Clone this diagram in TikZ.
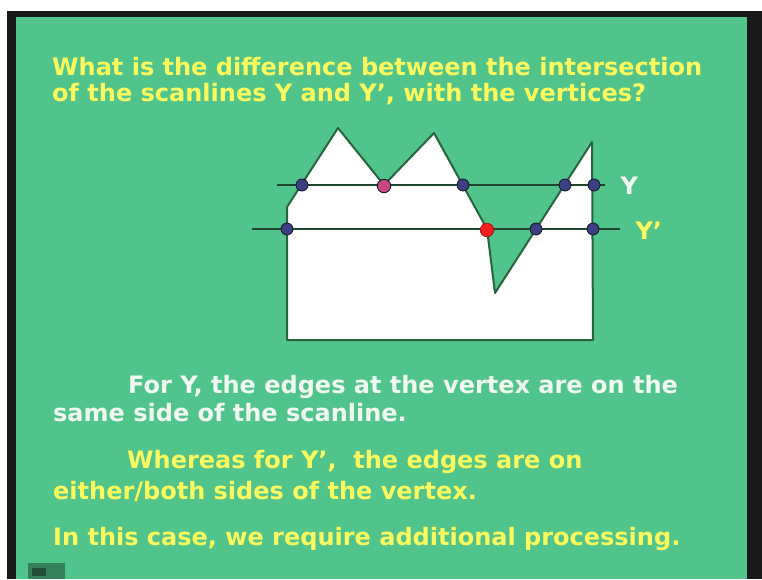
\documentclass[tikz,border=0pt]{standalone}
\usepackage{fontspec}
\setmainfont{DejaVu Sans}
\usepackage{tikz}
\usetikzlibrary{positioning}

\definecolor{slidegreen}{RGB}{80,196,138}
\definecolor{slideyellow}{RGB}{250,250,95}
\definecolor{slidewhite}{RGB}{240,250,242}
\definecolor{edgegreen}{RGB}{40,100,62}
\definecolor{scangreen}{RGB}{28,70,45}
\definecolor{dotblue}{RGB}{60,64,130}
\definecolor{dotpink}{RGB}{196,74,128}
\definecolor{dotred}{RGB}{240,30,30}

\begin{document}
\begin{tikzpicture}[
  x=1pt, y=-1pt,
  font=\fontsize{24}{29}\selectfont\bfseries,
  txt/.style={anchor=base west, inner sep=0pt},
  poly/.style={draw=edgegreen, fill=white, line width=2pt, line join=round},
  scan/.style={draw=scangreen, line width=2.6pt},
  dot/.style={circle, draw=black!70!dotblue, fill=dotblue, line width=0.8pt, minimum size=12pt, inner sep=0pt},
  hitdot/.style={dot, minimum size=13.5pt}
]
\useasboundingbox (0,0) rectangle (762,579);

% slide frame
\fill[white] (0,0) rectangle (762,579);
\fill[black!90] (7,11) rectangle (762,579);
\fill[slidegreen] (16,17) rectangle (747,579);
\fill[black!35!slidegreen] (28,563) rectangle (65,579);
\fill[black!60!slidegreen] (32,568) rectangle (46,576);

% question
\node[txt, text=slideyellow] (q1) at (52,75) {What is the difference between the intersection};
\node[txt, text=slideyellow] (q2) at (52,101) {of the scanlines Y and Y’, with the vertices?};

% polygon
\coordinate (a) at (287,340);
\coordinate (b) at (287,207);
\coordinate (c) at (338,128);
\coordinate (d) at (384,185);
\coordinate (e) at (434,133);
\coordinate (f) at (487,229);
\coordinate (g) at (495,293);
\coordinate (h) at (592,142);
\coordinate (i) at (593,340);
\draw[poly] (a) -- (b) -- (c) -- (d) -- (e) -- (f) -- (g) -- (h) -- (i) -- cycle;

% scanlines
\coordinate (ys) at (277,185);
\coordinate (ye) at (605,185);
\coordinate (ps) at (252,229);
\coordinate (pe) at (620,229);
\draw[scan] (ys) -- (ye);
\draw[scan] (ps) -- (pe);
\node[text=slidewhite, anchor=west] (ylab) at (617,186) {Y};
\node[text=slideyellow, anchor=west] (plab) at (632,231) {Y’};

% intersections
\node[dot] (y1) at (302,185) {};
\node[hitdot, fill=dotpink] (y2) at (384,186) {};
\node[dot] (y3) at (463,185) {};
\node[dot] (y4) at (565,185) {};
\node[dot] (y5) at (594,185) {};
\node[dot] (p1) at (287,229) {};
\node[hitdot, fill=dotred, draw=dotred!70!black] (p2) at (487,230) {};
\node[dot] (p3) at (536,229) {};
\node[dot] (p4) at (593,229) {};

% remarks
\node[txt, text=slidewhite] (t1) at (128,393) {For Y, the edges at the vertex are on the};
\node[txt, text=slidewhite] (t2) at (53,421) {same side of the scanline.};
\node[txt, text=slideyellow] (t3) at (127,468) {Whereas for Y’,\ \ the edges are on};
\node[txt, text=slideyellow] (t4) at (53,499) {either/both sides of the vertex.};
\node[txt, text=slideyellow] (t5) at (53,545) {In this case, we require additional processing.};

\end{tikzpicture}
\end{document}
